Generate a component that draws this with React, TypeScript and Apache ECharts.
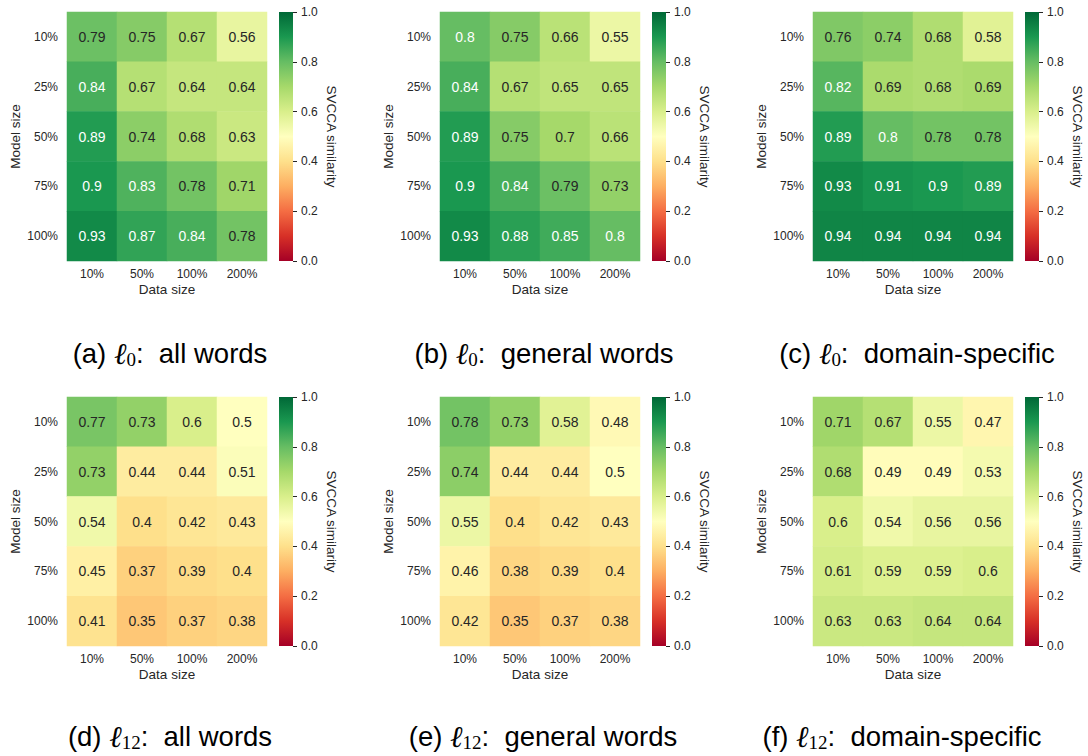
import { useEffect, useRef } from "react";
import * as echarts from "echarts";

// Axis categories
const dataSizes = ["10%", "50%", "100%", "200%"];
const modelSizes = ["10%", "25%", "50%", "75%", "100%"];

// SVCCA similarity, rows = model size (10% .. 100%), columns = data size (10% .. 200%)
const l0AllWords = [
  [0.79, 0.75, 0.67, 0.56],
  [0.84, 0.67, 0.64, 0.64],
  [0.89, 0.74, 0.68, 0.63],
  [0.9, 0.83, 0.78, 0.71],
  [0.93, 0.87, 0.84, 0.78],
];
const l0GeneralWords = [
  [0.8, 0.75, 0.66, 0.55],
  [0.84, 0.67, 0.65, 0.65],
  [0.89, 0.75, 0.7, 0.66],
  [0.9, 0.84, 0.79, 0.73],
  [0.93, 0.88, 0.85, 0.8],
];
const l0DomainSpecific = [
  [0.76, 0.74, 0.68, 0.58],
  [0.82, 0.69, 0.68, 0.69],
  [0.89, 0.8, 0.78, 0.78],
  [0.93, 0.91, 0.9, 0.89],
  [0.94, 0.94, 0.94, 0.94],
];
const l12AllWords = [
  [0.77, 0.73, 0.6, 0.5],
  [0.73, 0.44, 0.44, 0.51],
  [0.54, 0.4, 0.42, 0.43],
  [0.45, 0.37, 0.39, 0.4],
  [0.41, 0.35, 0.37, 0.38],
];
const l12GeneralWords = [
  [0.78, 0.73, 0.58, 0.48],
  [0.74, 0.44, 0.44, 0.5],
  [0.55, 0.4, 0.42, 0.43],
  [0.46, 0.38, 0.39, 0.4],
  [0.42, 0.35, 0.37, 0.38],
];
const l12DomainSpecific = [
  [0.71, 0.67, 0.55, 0.47],
  [0.68, 0.49, 0.49, 0.53],
  [0.6, 0.54, 0.56, 0.56],
  [0.61, 0.59, 0.59, 0.6],
  [0.63, 0.63, 0.64, 0.64],
];

// Panel captions
const panelLetters = ["a", "b", "c", "d", "e", "f"];
const panelLayers = ["0", "0", "0", "12", "12", "12"];
const panelSubsets = [
  "all words",
  "general words",
  "domain-specific",
  "all words",
  "general words",
  "domain-specific",
];
const panelValues = [
  l0AllWords,
  l0GeneralWords,
  l0DomainSpecific,
  l12AllWords,
  l12GeneralWords,
  l12DomainSpecific,
];

// RdYlGn colormap stops
const RDYLGN = [
  "#a50026",
  "#d73027",
  "#f46d43",
  "#fdae61",
  "#fee08b",
  "#ffffbf",
  "#d9ef8b",
  "#a6d96a",
  "#66bd63",
  "#1a9850",
  "#006837",
];

// Layout
const COL_LEFT = [67, 440, 813];
const ROW_TOP = [12, 397];
const MAP_W = 200;
const MAP_H = 249;
const BAR_OFFSET = 212;
const BAR_W = 14;
const CAPTION_POS = [
  [170, 353],
  [544, 353],
  [917, 353],
  [170, 736],
  [543, 736],
  [902, 736],
];

const INK = "#262626";
const FONT = "Liberation Sans, Arial, sans-serif";

function buildOption() {
  const grid: any[] = [];
  const xAxis: any[] = [];
  const yAxis: any[] = [];
  const series: any[] = [];
  const graphic: any[] = [];
  const heatIdx: number[] = [];

  const barGradient = new echarts.graphic.LinearGradient(
    0,
    0,
    0,
    1,
    RDYLGN.slice()
      .reverse()
      .map((c, k) => ({ offset: k / (RDYLGN.length - 1), color: c }))
  );

  panelValues.forEach((values, i) => {
    const col = i % 3;
    const row = Math.floor(i / 3);
    const left = COL_LEFT[col];
    const top = ROW_TOP[row];
    const g = grid.length;

    // heatmap
    grid.push({ left, top, width: MAP_W, height: MAP_H, show: false });
    xAxis.push({
      type: "category",
      gridIndex: g,
      data: dataSizes,
      name: "Data size",
      nameLocation: "middle",
      nameGap: 21,
      nameTextStyle: { fontSize: 13.5, color: INK, fontFamily: FONT },
      axisLine: { show: false },
      axisTick: { show: false },
      splitLine: { show: false },
      axisLabel: { margin: 7, fontSize: 12, color: INK, fontFamily: FONT },
    });
    yAxis.push({
      type: "category",
      gridIndex: g,
      data: modelSizes,
      inverse: true,
      name: "Model size",
      nameLocation: "middle",
      nameGap: 45,
      nameTextStyle: { fontSize: 13.5, color: INK, fontFamily: FONT },
      axisLine: { show: false },
      axisTick: { show: false },
      splitLine: { show: false },
      axisLabel: { margin: 9, fontSize: 12, color: INK, fontFamily: FONT },
    });
    const data: any[] = [];
    values.forEach((rowVals, r) =>
      rowVals.forEach((v, c) =>
        data.push({
          value: [c, r, v],
          label: { color: v >= 0.8 ? "#ffffff" : INK },
        })
      )
    );
    heatIdx.push(series.length);
    series.push({
      type: "heatmap",
      xAxisIndex: g,
      yAxisIndex: g,
      data,
      silent: true,
      label: {
        show: true,
        fontSize: 14,
        fontFamily: FONT,
        formatter: (p: any) => String(p.value[2]),
      },
    });

    // colorbar
    const b = grid.length;
    grid.push({ left: left + BAR_OFFSET, top, width: BAR_W, height: MAP_H, show: false });
    xAxis.push({ type: "category", gridIndex: b, data: [""], show: false });
    yAxis.push({
      type: "value",
      gridIndex: b,
      min: 0,
      max: 1,
      interval: 0.2,
      position: "right",
      name: "SVCCA similarity",
      nameLocation: "middle",
      nameRotate: -90,
      nameGap: 31,
      nameTextStyle: { fontSize: 13.5, color: INK, fontFamily: FONT },
      axisLine: { show: false },
      axisTick: { show: true, length: 4, lineStyle: { color: INK, width: 1 } },
      splitLine: { show: false },
      axisLabel: {
        margin: 8,
        fontSize: 12,
        color: INK,
        fontFamily: FONT,
        formatter: (v: number) => v.toFixed(1),
      },
    });
    series.push({
      type: "bar",
      xAxisIndex: b,
      yAxisIndex: b,
      data: [1],
      barWidth: "100%",
      silent: true,
      itemStyle: { color: barGradient },
    });

    // caption
    const [cx, cy] = CAPTION_POS[i];
    graphic.push({
      type: "text",
      x: cx,
      y: cy,
      silent: true,
      style: {
        text: `{t|(${panelLetters[i]}) }{l|ℓ}{s|${panelLayers[i]}}{t|:  ${panelSubsets[i]}}`,
        align: "center",
        verticalAlign: "middle",
        rich: {
          t: { fontSize: 27.5, fontFamily: FONT, color: "#111", lineHeight: 32 },
          l: {
            fontSize: 30,
            fontFamily: "Liberation Serif, serif",
            fontStyle: "italic",
            color: "#111",
            lineHeight: 32,
          },
          s: {
            fontSize: 19,
            fontFamily: "Liberation Serif, serif",
            color: "#111",
            lineHeight: 19,
            verticalAlign: "bottom",
          },
        },
      },
    });
  });

  return {
    animation: false,
    backgroundColor: "#ffffff",
    textStyle: { fontFamily: FONT },
    grid,
    xAxis,
    yAxis,
    visualMap: {
      type: "continuous",
      show: false,
      min: 0,
      max: 1,
      seriesIndex: heatIdx,
      inRange: { color: RDYLGN },
    },
    series,
    graphic,
  };
}

export default function App() {
  const ref = useRef<HTMLDivElement>(null);
  useEffect(() => {
    if (!ref.current) return;
    const chart = echarts.init(ref.current, undefined, { renderer: "svg" });
    chart.setOption(buildOption() as any);
    return () => chart.dispose();
  }, []);
  return (
    <div
      ref={ref}
      style={{ position: "absolute", left: 0, top: 0, width: 1088, height: 756, background: "#fff" }}
    />
  );
}
